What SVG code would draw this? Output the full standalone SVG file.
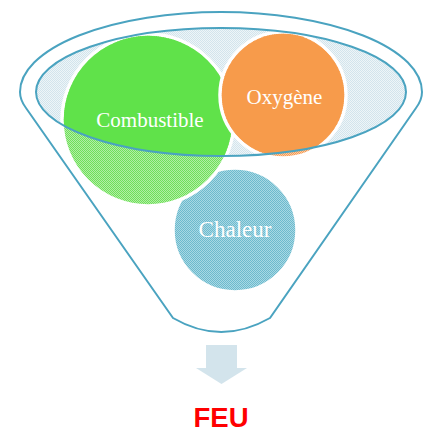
<svg xmlns="http://www.w3.org/2000/svg" width="430" height="432" viewBox="0 0 430 432">
<style>
.lbl{font-family:"Liberation Serif","Times New Roman",serif;fill:#ffffff;text-anchor:middle}
.edge{fill:none;stroke:#4aa3c0;stroke-width:2}
.circ{stroke:#ffffff;stroke-width:3.5}
</style>
<defs>
<pattern id="pEll" width="2" height="2" patternUnits="userSpaceOnUse">
<rect width="2" height="2" fill="#eef5f8"/><rect width="1" height="1" fill="#d2e4ec"/><rect x="1" y="1" width="1" height="1" fill="#d2e4ec"/>
</pattern>
<pattern id="pGreen" width="2" height="2" patternUnits="userSpaceOnUse">
<rect width="2" height="2" fill="#b2eea5"/><rect width="1" height="1" fill="#6fe05a"/><rect x="1" y="1" width="1" height="1" fill="#6fe05a"/>
</pattern>
<pattern id="pOrange" width="2" height="2" patternUnits="userSpaceOnUse">
<rect width="2" height="2" fill="#fbcaa2"/><rect width="1" height="1" fill="#f69d55"/><rect x="1" y="1" width="1" height="1" fill="#f69d55"/>
</pattern>
<pattern id="pBlue" width="2" height="2" patternUnits="userSpaceOnUse">
<rect width="2" height="2" fill="#a8d8e4"/><rect width="1" height="1" fill="#6dbacd"/><rect x="1" y="1" width="1" height="1" fill="#6dbacd"/>
</pattern>
<clipPath id="clipEll"><ellipse cx="221" cy="92" rx="185" ry="64"/></clipPath>
</defs>
<rect width="430" height="432" fill="#ffffff"/>
<g id="funnel">
<path d="M173,318 L26,108 Q20,100 20,92 A201,80 0 0 1 422,92 Q422,100 416,108 L270,318 Q221,346 173,318 Z" fill="#ffffff" stroke="#4aa3c0" stroke-width="2"/>
<ellipse cx="221" cy="92" rx="185" ry="64" fill="url(#pEll)"/>
</g>
<g id="chaleur">
<circle class="circ" cx="235" cy="230" r="62" fill="url(#pBlue)"/>
<text class="lbl" x="235" y="237" font-size="23">Chaleur</text>
</g>
<g id="combustible">
<circle class="circ" cx="148" cy="120" r="86" fill="url(#pGreen)"/>
<circle cx="148" cy="120" r="84.2" fill="#60e24a" clip-path="url(#clipEll)"/>
<text class="lbl" x="150" y="127" font-size="21">Combustible</text>
</g>
<g id="oxygene">
<circle class="circ" cx="283" cy="95" r="63" fill="url(#pOrange)"/>
<circle cx="283" cy="95" r="61.2" fill="#f79b4b" clip-path="url(#clipEll)"/>
<text class="lbl" x="284.5" y="104" font-size="21">Oxygène</text>
</g>
<g id="connectors">
<ellipse class="edge" cx="221" cy="92" rx="185" ry="64"/>
<path d="M206,345 L237,345 L237,368 L247,368 L221.5,384 L196,368 L206,368 Z" fill="#d3e4ec"/>
</g>
<g id="feu">
<text x="221" y="427" font-family="Liberation Sans, Arial, sans-serif" font-weight="bold" font-size="27.5" fill="#ff0000" text-anchor="middle">FEU</text>
</g>
</svg>
